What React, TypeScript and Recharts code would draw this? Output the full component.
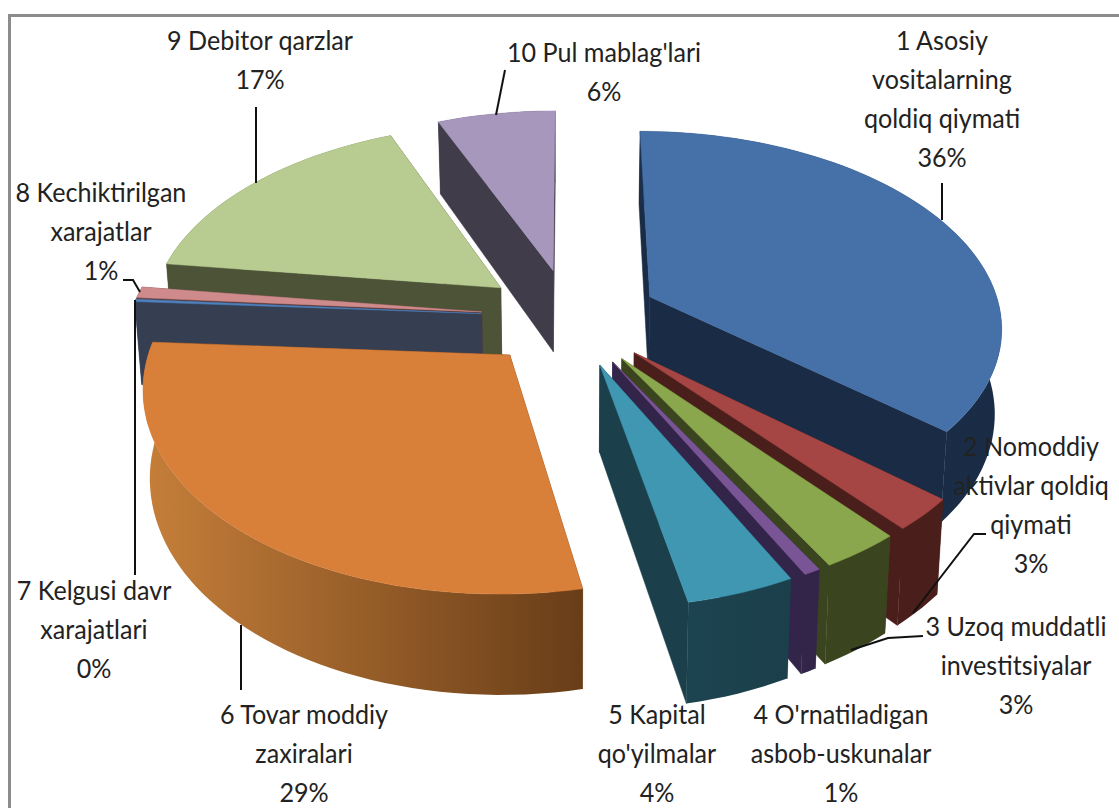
import React from "react";
import { PieChart, Pie } from "recharts";

// share of each balance item, in the order of the legend numbers
const frontNames = [
  "1 Asosiy vositalarning qoldiq qiymati",
  "2 Nomoddiy aktivlar qoldiq qiymati",
  "3 Uzoq muddatli investitsiyalar",
  "4 O'rnatiladigan asbob-uskunalar",
  "5 Kapital qo'yilmalar",
];
const frontValues = [36.3, 2.6, 3.1, 0.65, 4.2];

// these go counter-clockwise from the top so the far slices paint first
const backNames = [
  "10 Pul mablag'lari",
  "9 Debitor qarzlar",
  "8 Kechiktirilgan xarajatlar",
  "7 Kelgusi davr xarajatlari",
  "6 Tovar moddiy zaxiralari",
];
const backValues = [6.3, 16.6, 0.9, 0.2, 29.15];

const topColors: Record<string, string> = {
  "1": "#4570a8", "2": "#a64644", "3": "#8ba74d", "4": "#7a5595", "5": "#3f97b2",
  "6": "#d87f3a", "7": "#4f81bd", "8": "#cf8b8b", "9": "#b8cc92", "10": "#a797bd",
};
const wallColors: Record<string, [string, string]> = {
  "1": ["#1b2f4a", "#1a2c45"], "2": ["#4a1f1b", "#4a1f1b"], "3": ["#3a451f", "#3a451f"],
  "4": ["#33244a", "#33244a"], "5": ["#1c4450", "#1b3f4b"], "6": ["#c67f3a", "#683d18"],
  "7": ["#363f52", "#363f52"], "8": ["#5a3a3a", "#5a3a3a"], "9": ["#4c5336", "#4c5336"],
  "10": ["#403c4a", "#403c4a"],
};

// text block per slice: centre x, first baseline, lines, and leader line
const labelLayout: Record<string, { x: number; y: number; lines: string[]; leader?: string }> = {
  "1": { x: 942, y: 50, lines: ["1 Asosiy", "vositalarning", "qoldiq qiymati"], leader: "942,183 942,220" },
  "2": { x: 1031, y: 456, lines: ["2 Nomoddiy", "aktivlar qoldiq", "qiymati"], leader: "986,534 974,534 913,613" },
  "3": { x: 1016, y: 636, lines: ["3 Uzoq muddatli", "investitsiyalar"], leader: "923,636 888,638 851,650" },
  "4": { x: 841, y: 724, lines: ["4 O'rnatiladigan", "asbob-uskunalar"] },
  "5": { x: 657, y: 724, lines: ["5 Kapital", "qo'yilmalar"] },
  "6": { x: 304, y: 724, lines: ["6 Tovar moddiy", "zaxiralari"], leader: "241,625 241,690" },
  "7": { x: 94, y: 600, lines: ["7 Kelgusi davr", "xarajatlari"], leader: "135,300 135,575" },
  "8": { x: 101, y: 202, lines: ["8 Kechiktirilgan", "xarajatlar"], leader: "123,280 133,280 140,292" },
  "9": { x: 260, y: 50, lines: ["9 Debitor qarzlar"], leader: "256,107 256,183" },
  "10": { x: 604, y: 62, lines: ["10 Pul mablag'lari"], leader: "505,70 496,115" },
};

const total = [...frontValues, ...backValues].reduce((a, b) => a + b, 0);
const sum = (list: number[]) => list.reduce((a, b) => a + b, 0);
const frontData = frontNames.map((name, i) => ({ name, value: frontValues[i] }));
const backData = backNames.map((name, i) => ({ name, value: backValues[i] }));

const EXPLODE = 0.253;
const TILT = 0.551;
const PERSP = 0.14;
const DEPTH = 84;
const BOTTOM_SHRINK = 0.984;

const idOf = (name: string) => name.split(" ")[0];

function Slice3D(props: any) {
  const { cx, cy, outerRadius: R, startAngle, endAngle, name, payload } = props;
  const id = idOf(name ?? payload?.name);
  const rad = Math.PI / 180;
  const mid = ((startAngle + endAngle) / 2) * rad;
  const ex = EXPLODE * Math.cos(mid);
  const ey = -EXPLODE * Math.sin(mid);

  // u/v are in pie plane units, v points at the viewer
  const project = (u: number, v: number, low: boolean) => {
    const s = 1 / (1 - PERSP * v);
    const x = cx + R * u * s * (low ? BOTTOM_SHRINK : 1);
    const y = cy + R * TILT * v * s + (low ? DEPTH * s : 0);
    return `${x.toFixed(1)},${y.toFixed(1)}`;
  };
  const rim = (a: number, low: boolean) =>
    project(ex + Math.cos(a * rad), ey - Math.sin(a * rad), low);

  const steps = Math.max(2, Math.ceil(Math.abs(endAngle - startAngle) / 2));
  const arc = (low: boolean) => {
    const pts: string[] = [];
    for (let i = 0; i <= steps; i++) {
      pts.push(rim(startAngle + ((endAngle - startAngle) * i) / steps, low));
    }
    return pts;
  };
  const apexTop = project(ex, ey, false);
  const apexLow = project(ex, ey, true);
  const top = arc(false);
  const low = arc(true);
  const [wallA, wallB] = wallColors[id];
  const gradId = `wall-${id}`;
  const cutColor = wallB;

  return (
    <g>
      <defs>
        <linearGradient id={gradId} x1="0" y1="0" x2="1" y2="0">
          <stop offset="0%" stopColor={wallA} />
          <stop offset="100%" stopColor={wallB} />
        </linearGradient>
      </defs>
      <polygon points={[apexTop, top[0], low[0], apexLow].join(" ")} fill={cutColor} stroke={cutColor} strokeWidth={0.5} />
      <polygon points={[apexTop, top[steps], low[steps], apexLow].join(" ")} fill={cutColor} stroke={cutColor} strokeWidth={0.5} />
      <polygon points={[...top, ...[...low].reverse()].join(" ")} fill={`url(#${gradId})`} />
      <polygon points={[apexTop, ...top].join(" ")} fill={topColors[id]} stroke={topColors[id]} strokeWidth={0.5} />
    </g>
  );
}

function SliceLabel(props: any) {
  const id = idOf(props.name ?? props.payload?.name);
  const layout = labelLayout[id];
  const pct = `${Math.round((props.value / total) * 100)}%`;
  const rows = [...layout.lines, pct];
  return (
    <g>
      {layout.leader && <polyline points={layout.leader} fill="none" stroke="#111" strokeWidth={2} />}
      {rows.map((row, i) => (
        <text
          key={row}
          transform={`translate(${layout.x},${layout.y + i * 39}) scale(0.93,1)`}
          textAnchor="middle"
          fontFamily="Lato, sans-serif"
          fontSize={27}
          fill="#222"
        >
          {row}
        </text>
      ))}
    </g>
  );
}

export default function App() {
  return (
    <div style={{ position: "absolute", left: 0, top: 0, width: 1119, height: 808, background: "#fff", overflow: "hidden" }}>
      <div style={{ position: "absolute", left: 8, top: 14, width: 1111, height: 794, borderTop: "3px solid #8c8c8c", borderLeft: "3px solid #8c8c8c" }} />
      <PieChart width={1119} height={808} margin={{ top: 0, right: 0, bottom: 0, left: 0 }} style={{ position: "absolute", left: 0, top: 0 }}>
        <Pie
          data={backData}
          dataKey="value"
          nameKey="name"
          cx={570}
          cy={317}
          outerRadius={352}
          startAngle={90}
          endAngle={90 + (360 * sum(backValues)) / total}
          stroke="none"
          shape={Slice3D}
          label={SliceLabel}
          labelLine={false}
          isAnimationActive={false}
        />
        <Pie
          data={frontData}
          dataKey="value"
          nameKey="name"
          cx={570}
          cy={317}
          outerRadius={352}
          startAngle={90}
          endAngle={90 - (360 * sum(frontValues)) / total}
          stroke="none"
          shape={Slice3D}
          label={SliceLabel}
          labelLine={false}
          isAnimationActive={false}
        />
      </PieChart>
    </div>
  );
}
